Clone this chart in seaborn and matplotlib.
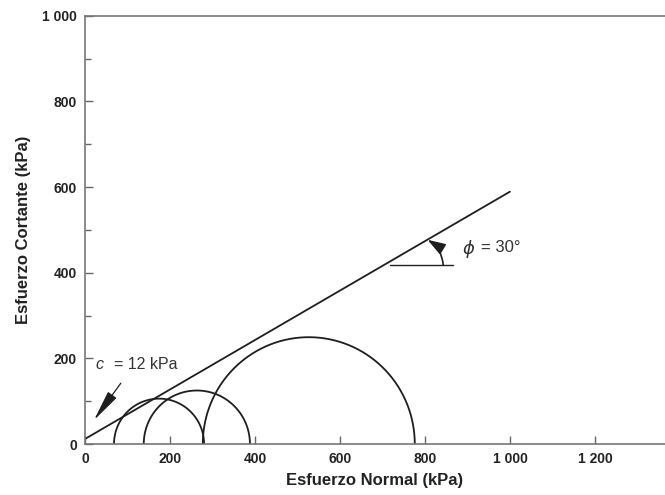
import numpy as np
import pandas as pd
import matplotlib
matplotlib.use("Agg")
import matplotlib.pyplot as plt
import seaborn as sns

# Data
sigma_left = [68, 138, 277]      # left intersection of Mohr circles (kPa)
sigma_right = [280, 388, 776]    # right intersection of Mohr circles (kPa)
cohesion = 12                    # kPa
phi_deg = 30                     # degrees
env_sigma = [0, 1000]            # envelope drawn range
x_ticks = [0, 200, 400, 600, 800, 1000, 1200]
x_labels = ["0", "200", "400", "600", "800", "1 000", "1 200"]
y_ticks = [0, 200, 400, 600, 800, 1000]
y_labels = ["0", "200", "400", "600", "800", "1 000"]

sns.set_theme(style="white")
plt.rcParams['font.family'] = ['Liberation Sans', 'DejaVu Sans']

fig = plt.figure(figsize=(6.65, 4.95), dpi=100)
ax = fig.add_axes([0.128, 0.103, 0.872, 0.865])

ink = "#1e1e1e"

# Envelope
env = pd.DataFrame({"s": env_sigma})
env["t"] = cohesion + env["s"] * np.tan(np.radians(phi_deg))
sns.lineplot(data=env, x="s", y="t", ax=ax, color=ink, lw=1.3)

# Mohr circles (upper halves)
th = np.linspace(0, np.pi, 200)
for l, r in zip(sigma_left, sigma_right):
    c = (l + r) / 2
    rad = (r - l) / 2
    df = pd.DataFrame({"s": c + rad * np.cos(th), "t": rad * np.sin(th)})
    sns.lineplot(data=df, x="s", y="t", ax=ax, color=ink, lw=1.3, sort=False)

# phi annotation
ax.plot([718, 865], [418, 418], color=ink, lw=1.0)
ax.annotate("", xy=(806, 477), xytext=(843, 418),
            arrowprops=dict(arrowstyle="-|>,head_length=0.9,head_width=0.3",
                            color=ink, lw=1.2, shrinkA=0, shrinkB=0,
                            connectionstyle="arc3,rad=0.25"))
ax.text(888, 455, r"$\phi$", fontsize=13, color="#333", ha="left", va="center")
ax.text(932, 460, "= 30°", fontsize=12, color="#333", ha="left", va="center")

# c annotation
ax.text(25, 186, "c", fontsize=11.5, color="#333", ha="left", va="center", style="italic")
ax.text(68, 186, "= 12 kPa", fontsize=11.5, color="#333", ha="left", va="center")
ax.annotate("", xy=(21, 56), xytext=(84, 142),
            arrowprops=dict(arrowstyle="-|>,head_length=1.6,head_width=0.27",
                            color=ink, lw=0.9, shrinkA=0, shrinkB=0))

ax.set_xlim(0, 1365)
ax.set_ylim(0, 1000)
ax.set_xticks(x_ticks)
ax.set_xticklabels(x_labels)
ax.set_yticks(y_ticks)
ax.set_yticklabels(y_labels)
ax.set_yticks([100, 300, 500, 700, 900], minor=True)
ax.tick_params(axis="both", which="major", direction="in", length=6, width=1,
               color="#666", labelsize=10, labelcolor="#222", pad=6,
               left=True, bottom=True)
ax.tick_params(axis="y", which="minor", direction="in", length=4, width=1,
               color="#666", left=True)
for lab in ax.get_xticklabels() + ax.get_yticklabels():
    lab.set_fontweight("bold")

ax.set_xlabel("Esfuerzo Normal (kPa)", fontsize=12, fontweight="bold", color="#222", labelpad=5)
ax.set_ylabel("Esfuerzo Cortante (kPa)", fontsize=12, fontweight="bold", color="#222", labelpad=8)

for side in ["left", "bottom", "top"]:
    ax.spines[side].set_color("#777")
    ax.spines[side].set_linewidth(1.2)
ax.spines["right"].set_visible(False)

fig.savefig("out.png", dpi=100)
